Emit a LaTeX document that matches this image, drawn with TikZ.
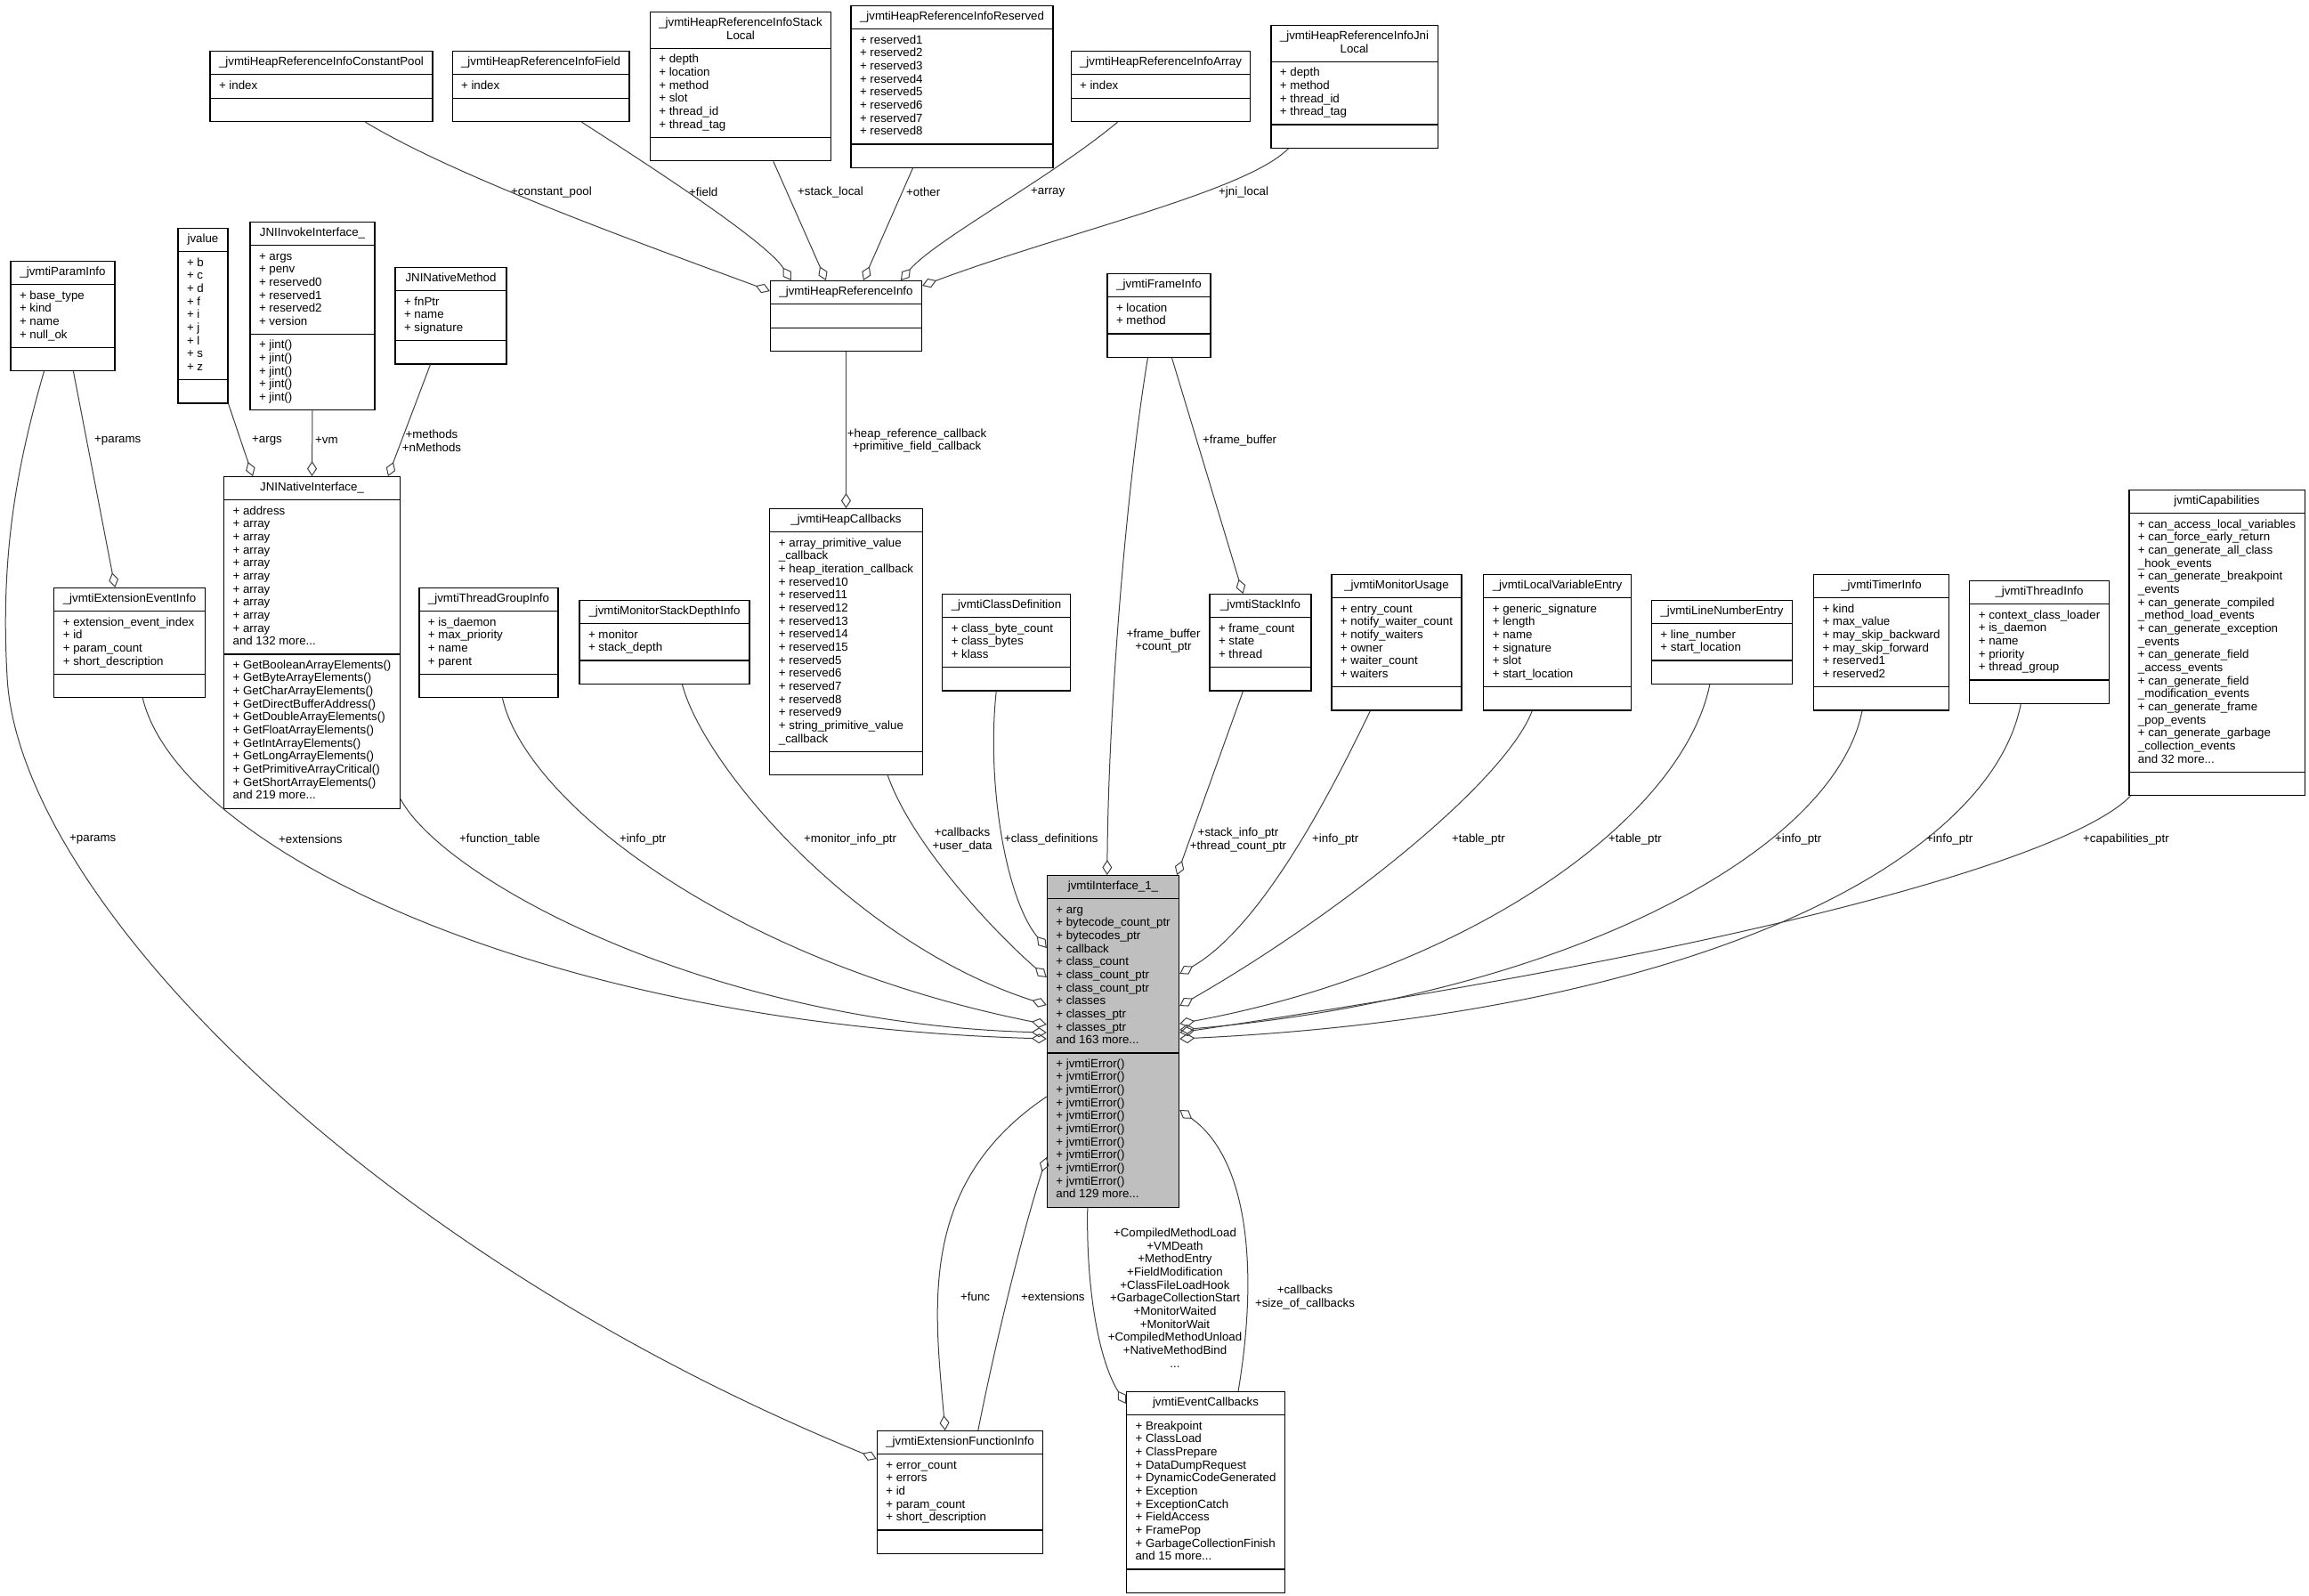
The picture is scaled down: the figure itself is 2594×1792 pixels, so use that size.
\documentclass[tikz,border=0pt]{standalone}
\usepackage{fontspec}
\setmainfont{Liberation Sans}
\usetikzlibrary{shapes.multipart,arrows.meta,calc}

\begin{document}
\begin{tikzpicture}[x=1pt, y=-1pt,
    lbl/.style={font=\fontsize{13.3}{14.67}\selectfont, inner sep=0pt, align=center}]
    \tikzstyle{cls}=[rectangle split, rectangle split parts=3, rectangle split part align={center,left,left},
      align=left, anchor=north, draw=black, line width=1.1pt, fill=white,
      inner xsep=10pt, inner ysep=5.3pt, font=\fontsize{13.3}{14.67}\selectfont]
    \tikzstyle{agg}=[draw=black!75, line width=1pt, -{Diamond[open, length=17pt, width=11pt]}]

      \useasboundingbox (0,0) rectangle (2594,1792);
      \fill[white] (0,0) rectangle (2594,1792);

      % top row
      \node[cls, minimum width=246] (cpool) at (361,57) {\strut\_jvmtiHeapReferenceInfoConstantPool \nodepart{two}\strut+ index\strut \nodepart{three}\strut};
      \node[cls, minimum width=197] (field) at (607.5,57) {\strut\_jvmtiHeapReferenceInfoField \nodepart{two}\strut+ index\strut \nodepart{three}\strut};
      \node[cls, minimum width=202] (slocal) at (832,13) {\begin{tabular}{@{}c@{}}\_jvmtiHeapReferenceInfoStack\\Local\end{tabular} \nodepart{two}\strut+ depth\\+ location\\+ method\\+ slot\\+ thread\_id\\+ thread\_tag\strut \nodepart{three}\strut};
      \node[cls, minimum width=223] (reserved) at (1069.5,6) {\strut\_jvmtiHeapReferenceInfoReserved \nodepart{two}\strut+ reserved1\\+ reserved2\\+ reserved3\\+ reserved4\\+ reserved5\\+ reserved6\\+ reserved7\\+ reserved8\strut \nodepart{three}\strut};
      \node[cls, minimum width=198] (array) at (1304,57) {\strut\_jvmtiHeapReferenceInfoArray \nodepart{two}\strut+ index\strut \nodepart{three}\strut};
      \node[cls, minimum width=187] (jlocal) at (1521.5,28) {\begin{tabular}{@{}c@{}}\_jvmtiHeapReferenceInfoJni\\Local\end{tabular} \nodepart{two}\strut+ depth\\+ method\\+ thread\_id\\+ thread\_tag\strut \nodepart{three}\strut};
      \node[cls, minimum width=169] (hrinfo) at (950.5,315) {\strut\_jvmtiHeapReferenceInfo \nodepart{two}\strut \nodepart{three}\strut};
      \node[cls, minimum width=116] (frame) at (1302,307) {\strut\_jvmtiFrameInfo \nodepart{two}\strut+ location\\+ method\strut \nodepart{three}\strut};

      % JNI side
      \node[cls, minimum width=56] (jvalue) at (228,256) {\strut jvalue \nodepart{two}\strut+ b\\+ c\\+ d\\+ f\\+ i\\+ j\\+ l\\+ s\\+ z\strut \nodepart{three}\strut};
      \node[cls, minimum width=140] (invoke) at (351,249) {\strut JNIInvokeInterface\_ \nodepart{two}\strut+ args\\+ penv\\+ reserved0\\+ reserved1\\+ reserved2\\+ version\strut \nodepart{three}\strut+ jint()\\+ jint()\\+ jint()\\+ jint()\\+ jint()\strut};
      \node[cls, minimum width=125] (nmethod) at (506.5,300) {\strut JNINativeMethod \nodepart{two}\strut+ fnPtr\\+ name\\+ signature\strut \nodepart{three}\strut};
      \node[cls, minimum width=117] (param) at (70.5,293) {\strut\_jvmtiParamInfo \nodepart{two}\strut+ base\_type\\+ kind\\+ name\\+ null\_ok\strut \nodepart{three}\strut};
      \node[cls, minimum width=193] (jni) at (350.5,535) {\strut JNINativeInterface\_ \nodepart{two}\strut+ address\\+ array\\+ array\\+ array\\+ array\\+ array\\+ array\\+ array\\+ array\\+ array\\and 132 more...\strut \nodepart{three}\strut+ GetBooleanArrayElements()\\+ GetByteArrayElements()\\+ GetCharArrayElements()\\+ GetDirectBufferAddress()\\+ GetDoubleArrayElements()\\+ GetFloatArrayElements()\\+ GetIntArrayElements()\\+ GetLongArrayElements()\\+ GetPrimitiveArrayCritical()\\+ GetShortArrayElements()\\and 219 more...\strut};
      \node[cls, minimum width=169] (heapcb) at (950.5,571) {\strut\_jvmtiHeapCallbacks \nodepart{two}\strut+ array\_primitive\_value\\\_callback\\+ heap\_iteration\_callback\\+ reserved10\\+ reserved11\\+ reserved12\\+ reserved13\\+ reserved14\\+ reserved15\\+ reserved5\\+ reserved6\\+ reserved7\\+ reserved8\\+ reserved9\\+ string\_primitive\_value\\\_callback\strut \nodepart{three}\strut};

      % middle row
      \node[cls, minimum width=167] (exevent) at (145.5,660) {\strut\_jvmtiExtensionEventInfo \nodepart{two}\strut+ extension\_event\_index\\+ id\\+ param\_count\\+ short\_description\strut \nodepart{three}\strut};
      \node[cls, minimum width=154] (tgroup) at (549,660) {\strut\_jvmtiThreadGroupInfo \nodepart{two}\strut+ is\_daemon\\+ max\_priority\\+ name\\+ parent\strut \nodepart{three}\strut};
      \node[cls, minimum width=191] (msdepth) at (746.5,674) {\strut\_jvmtiMonitorStackDepthInfo \nodepart{two}\strut+ monitor\\+ stack\_depth\strut \nodepart{three}\strut};
      \node[cls, minimum width=143] (classdef) at (1130.5,667) {\strut\_jvmtiClassDefinition \nodepart{two}\strut+ class\_byte\_count\\+ class\_bytes\\+ klass\strut \nodepart{three}\strut};
      \node[cls, minimum width=114] (stack) at (1416,667) {\strut\_jvmtiStackInfo \nodepart{two}\strut+ frame\_count\\+ state\\+ thread\strut \nodepart{three}\strut};
      \node[cls, minimum width=146] (musage) at (1569,645) {\strut\_jvmtiMonitorUsage \nodepart{two}\strut+ entry\_count\\+ notify\_waiter\_count\\+ notify\_waiters\\+ owner\\+ waiter\_count\\+ waiters\strut \nodepart{three}\strut};
      \node[cls, minimum width=165] (localvar) at (1749.5,645) {\strut\_jvmtiLocalVariableEntry \nodepart{two}\strut+ generic\_signature\\+ length\\+ name\\+ signature\\+ slot\\+ start\_location\strut \nodepart{three}\strut};
      \node[cls, minimum width=157] (linenum) at (1934.5,674) {\strut\_jvmtiLineNumberEntry \nodepart{two}\strut+ line\_number\\+ start\_location\strut \nodepart{three}\strut};
      \node[cls, minimum width=151] (timer) at (2113.5,645) {\strut\_jvmtiTimerInfo \nodepart{two}\strut+ kind\\+ max\_value\\+ may\_skip\_backward\\+ may\_skip\_forward\\+ reserved1\\+ reserved2\strut \nodepart{three}\strut};
      \node[cls, minimum width=154] (thread) at (2291,652) {\strut\_jvmtiThreadInfo \nodepart{two}\strut+ context\_class\_loader\\+ is\_daemon\\+ name\\+ priority\\+ thread\_group\strut \nodepart{three}\strut};
      \node[cls, minimum width=195] (caps) at (2490.5,550) {\strut jvmtiCapabilities \nodepart{two}\strut+ can\_access\_local\_variables\\+ can\_force\_early\_return\\+ can\_generate\_all\_class\\\_hook\_events\\+ can\_generate\_breakpoint\\\_events\\+ can\_generate\_compiled\\\_method\_load\_events\\+ can\_generate\_exception\\\_events\\+ can\_generate\_field\\\_access\_events\\+ can\_generate\_field\\\_modification\_events\\+ can\_generate\_frame\\\_pop\_events\\+ can\_generate\_garbage\\\_collection\_events\\and 32 more...\strut \nodepart{three}\strut};

      % main class and bottom row
      \node[cls, minimum width=147, fill=black!25] (jvmti) at (1250.5,983) {\strut jvmtiInterface\_1\_ \nodepart{two}\strut+ arg\\+ bytecode\_count\_ptr\\+ bytecodes\_ptr\\+ callback\\+ class\_count\\+ class\_count\_ptr\\+ class\_count\_ptr\\+ classes\\+ classes\_ptr\\+ classes\_ptr\\and 163 more...\strut \nodepart{three}\strut+ jvmtiError()\\+ jvmtiError()\\+ jvmtiError()\\+ jvmtiError()\\+ jvmtiError()\\+ jvmtiError()\\+ jvmtiError()\\+ jvmtiError()\\+ jvmtiError()\\+ jvmtiError()\\and 129 more...\strut};
      \node[cls, minimum width=185] (exfunc) at (1078.5,1607) {\strut\_jvmtiExtensionFunctionInfo \nodepart{two}\strut+ error\_count\\+ errors\\+ id\\+ param\_count\\+ short\_description\strut \nodepart{three}\strut};
      \node[cls, minimum width=173] (evcb) at (1354.5,1563) {\strut jvmtiEventCallbacks \nodepart{two}\strut+ Breakpoint\\+ ClassLoad\\+ ClassPrepare\\+ DataDumpRequest\\+ DynamicCodeGenerated\\+ Exception\\+ ExceptionCatch\\+ FieldAccess\\+ FramePop\\+ GarbageCollectionFinish\\and 15 more...\strut \nodepart{three}\strut};

      % aggregations into _jvmtiHeapReferenceInfo
      \draw[agg] ($(cpool.south west)+(175,0)$) .. controls (513,199) and (716,272) .. ($(hrinfo.north west)+(0,12)$);
      \draw[agg] ($(field.south west)+(146,0)$) .. controls (720,180) and (860,270) .. ($(hrinfo.north west)+(24,0)$);
      \draw[agg] ($(slocal.south west)+(139,0)$) -- ($(hrinfo.north west)+(63,0)$);
      \draw[agg] ($(reserved.south west)+(70,0)$) -- ($(hrinfo.north west)+(105,0)$);
      \draw[agg] ($(array.south west)+(53,0)$) .. controls (1180,200) and (1050,270) .. ($(hrinfo.north west)+(147,0)$);
      \draw[agg] ($(jlocal.south west)+(20,0)$) .. controls (1400,215) and (1200,260) .. ($(hrinfo.north east)+(0,6)$);
      \draw[agg] (hrinfo.south) -- (heapcb.north);

      % JNI side
      \draw[agg] (jvalue.south east) -- ($(jni.north west)+(33,0)$);
      \draw[agg] (invoke.south) -- (jni.north);
      \draw[agg] ($(nmethod.south west)+(40,0)$) -- ($(jni.north east)+(-14,0)$);
      \draw[agg] ($(param.south west)+(71,0)$) -- ($(exevent.north west)+(69,0)$);
      \draw[agg] ($(param.south west)+(38,0)$) .. controls (20,520) and (0,620) .. (8,760) .. controls (20,1000) and (400,1400) .. ($(exfunc.north west)+(0,32)$);

      % into jvmtiInterface_1_ from the left
      \draw[agg] ($(exevent.south west)+(100,0)$) .. controls (200,950) and (600,1150) .. ($(jvmti.north west)+(0,184)$);
      \draw[agg] ($(jni.south east)+(0,-11)$) .. controls (500,990) and (800,1150) .. ($(jvmti.north west)+(0,177)$);
      \draw[agg] ($(tgroup.south west)+(94,0)$) .. controls (590,900) and (820,1080) .. ($(jvmti.north west)+(0,168)$);
      \draw[agg] ($(msdepth.south west)+(116,0)$) .. controls (790,860) and (960,1060) .. ($(jvmti.north west)+(0,146)$);
      \draw[agg] ($(heapcb.south west)+(133,0)$) .. controls (1025,950) and (1120,1050) .. ($(jvmti.north west)+(0,115)$);
      \draw[agg] ($(classdef.south west)+(61,0)$) .. controls (1108,880) and (1130,1010) .. ($(jvmti.north west)+(0,82)$);

      % from the top and the right
      \draw[agg] ($(frame.south west)+(46,0)$) .. controls (1265,550) and (1245,800) .. ($(jvmti.north west)+(68,0)$);
      \draw[agg] ($(frame.south west)+(73,0)$) -- ($(stack.north west)+(38,0)$);
      \draw[agg] ($(stack.south west)+(38,0)$) -- ($(jvmti.north east)+(-3,0)$);
      \draw[agg] ($(musage.south west)+(44,0)$) .. controls (1500,880) and (1420,1040) .. ($(jvmti.north east)+(0,111)$);
      \draw[agg] ($(localvar.south west)+(55,0)$) .. controls (1690,880) and (1500,1030) .. ($(jvmti.north east)+(0,147)$);
      \draw[agg] ($(linenum.south west)+(66,0)$) .. controls (1890,920) and (1650,1090) .. ($(jvmti.north east)+(0,167)$);
      \draw[agg] ($(timer.south west)+(55,0)$) .. controls (2060,960) and (1750,1120) .. ($(jvmti.north east)+(0,174)$);
      \draw[agg] ($(thread.south west)+(58,0)$) .. controls (2235,970) and (1900,1140) .. ($(jvmti.north east)+(0,184)$);
      \draw[agg] ($(caps.south west)+(2,0)$) .. controls (2330,960) and (2000,1060) .. ($(jvmti.north east)+(0,177)$);

      % bottom
      \draw[agg] ($(jvmti.north west)+(0,249)$) .. controls (1030,1330) and (1050,1470) .. ($(exfunc.north west)+(77,0)$);
      \draw[agg] ($(exfunc.north west)+(114,0)$) .. controls (1120,1500) and (1150,1380) .. ($(jvmti.north west)+(0,317)$);
      \draw[agg] ($(jvmti.south west)+(46,0)$) .. controls (1220,1450) and (1235,1530) .. ($(evcb.north west)+(0,14)$);
      \draw[agg] ($(evcb.north west)+(126,0)$) .. controls (1415,1420) and (1400,1300) .. ($(jvmti.north east)+(0,264)$);

      % edge labels
      \node[lbl, anchor=west] (lcpool) at (574,216) {+constant\_pool};
      \node[lbl, anchor=west] (lfield) at (774,216) {+field};
      \node[lbl, anchor=west] (lslocal) at (896,216) {+stack\_local};
      \node[lbl, anchor=west] (lother) at (1018,216) {+other};
      \node[lbl, anchor=west] (larray) at (1158,216) {+array};
      \node[lbl, anchor=west] (ljlocal) at (1369,216) {+jni\_local};
      \node[lbl] (lheap) at (1030,495) {+heap\_reference\_callback\\+primitive\_field\_callback};
      \node[lbl, anchor=west] (lframe) at (1351,495) {+frame\_buffer};
      \node[lbl] (lframeptr) at (1307,720) {+frame\_buffer\\+count\_ptr};
      \node[lbl, anchor=west] (largs) at (283,495) {+args};
      \node[lbl, anchor=west] (lvm) at (354,495) {+vm};
      \node[lbl] (lmethods) at (485,495) {+methods\\+nMethods};
      \node[lbl, anchor=west] (lparams) at (106,495) {+params};
      \node[lbl, anchor=west] (lparamsfn) at (78,943) {+params};
      \node[lbl, anchor=west] (lextev) at (313,943) {+extensions};
      \node[lbl, anchor=west] (lftable) at (516,943) {+function\_table};
      \node[lbl, anchor=west] (ltgroup) at (696,943) {+info\_ptr};
      \node[lbl, anchor=west] (lmsdepth) at (903,943) {+monitor\_info\_ptr};
      \node[lbl] (lheapcb) at (1081,943.5) {+callbacks\\+user\_data};
      \node[lbl, anchor=west] (lclassdef) at (1128,943) {+class\_definitions};
      \node[lbl] (lstack) at (1391,943.5) {+stack\_info\_ptr\\+thread\_count\_ptr};
      \node[lbl, anchor=west] (lmusage) at (1474,943) {+info\_ptr};
      \node[lbl, anchor=west] (llocalvar) at (1631,943) {+table\_ptr};
      \node[lbl, anchor=west] (llinenum) at (1807,943) {+table\_ptr};
      \node[lbl, anchor=west] (ltimer) at (1994,943) {+info\_ptr};
      \node[lbl, anchor=west] (lthread) at (2164,943) {+info\_ptr};
      \node[lbl, anchor=west] (lcaps) at (2340,943) {+capabilities\_ptr};
      \node[lbl, anchor=west] (lfunc) at (1079,1457) {+func};
      \node[lbl, anchor=west] (lextfn) at (1147,1457) {+extensions};
      \node[lbl] (levents) at (1320,1458) {+CompiledMethodLoad\\+VMDeath\\+MethodEntry\\+FieldModification\\+ClassFileLoadHook\\+GarbageCollectionStart\\+MonitorWaited\\+MonitorWait\\+CompiledMethodUnload\\+NativeMethodBind\\...};
      \node[lbl] (levcb) at (1466,1457.5) {+callbacks\\+size\_of\_callbacks};
    \end{tikzpicture}
\end{document}
